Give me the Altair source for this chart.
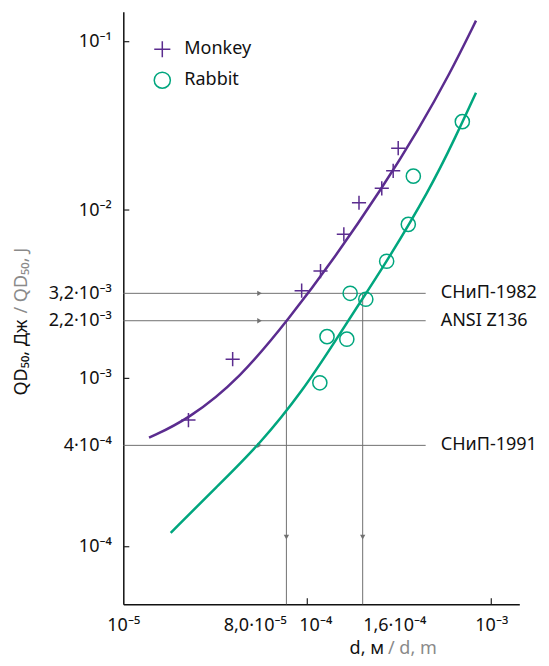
import altair as alt
import pandas as pd

# ---------------- data ----------------
species_names = ["Monkey", "Rabbit"]

monkey_d = [2.26e-5, 3.93e-5, 9.32e-5, 1.18e-4, 1.58e-4, 1.91e-4, 2.54e-4, 2.93e-4, 3.12e-4]
monkey_qd = [5.65e-4, 1.30e-3, 3.32e-3, 4.34e-3, 7.17e-3, 1.105e-2, 1.345e-2, 1.71e-2, 2.33e-2]

rabbit_d = [1.17e-4, 1.28e-4, 1.64e-4, 1.71e-4, 2.08e-4, 2.70e-4, 3.54e-4, 3.77e-4, 6.96e-4]
rabbit_qd = [9.41e-4, 1.77e-3, 1.71e-3, 3.20e-3, 2.95e-3, 4.96e-3, 8.22e-3, 1.59e-2, 3.35e-2]

monkey_curve_d = [1.38e-5, 2.26e-5, 4.31e-5, 8.05e-5, 1.38e-4, 2.54e-4, 4.01e-4, 5.97e-4, 8.26e-4]
monkey_curve_qd = [4.44e-4, 5.71e-4, 1.00e-3, 2.30e-3, 5.04e-3, 1.34e-2, 2.99e-2, 6.49e-2, 1.333e-1]

rabbit_curve_d = [1.81e-5, 3.22e-5, 5.53e-5, 9.51e-5, 1.43e-4, 2.11e-4, 2.70e-4, 4.64e-4, 6.35e-4, 8.26e-4]
rabbit_curve_qd = [1.21e-4, 2.27e-4, 4.07e-4, 8.52e-4, 1.69e-3, 3.27e-3, 4.93e-3, 1.33e-2, 2.67e-2, 4.98e-2]

# limit levels (horizontal lines)
limit_qd = [3.2e-3, 2.2e-3, 4e-4]
limit_names = ["СНиП-1982", "ANSI Z136", "СНиП-1991"]
limit_line_start = 1e-5
limit_line_end = 4.4e-4
limit_arrow_d = 5.5e-5

# resulting diameters (vertical lines)
result_d = [7.7e-5, 2.0e-4]
result_top_qd = [2.2e-3, 3.2e-3]
result_arrow_qd = 1.14e-4

# axes
x_domain = [1e-5, 1.42e-3]
y_domain = [4.55e-5, 0.1507]
x_tick_values = [1e-5, 7.7e-5, 1e-4, 2.0e-4, 1e-3]
x_tick_labels = ["10⁻⁵", "8,0·10⁻⁵", "10⁻⁴", "1,6·10⁻⁴", "10⁻³"]
x_major_ticks = [1e-4, 1e-3]
y_tick_values = [1e-4, 4e-4, 1e-3, 2.2e-3, 3.2e-3, 1e-2, 1e-1]
y_tick_labels = ["10⁻⁴", "4·10⁻⁴", "10⁻³", "2,2·10⁻³", "3,2·10⁻³", "10⁻²", "10⁻¹"]
y_major_ticks = [1e-4, 1e-3, 1e-2, 1e-1]

x_title_main, x_title_alt = "d, м", "/ d, m"
y_title_main, y_title_alt = "QD₅₀, Дж", "/ QD₅₀, J"

# ---------------- styling ----------------
PURPLE = "#5b2c8f"
GREEN = "#00a67e"
GRAY = "#707070"
FONT = "Noto Sans"
FS = 18
W, H = 396, 592.6

# ---------------- tables ----------------
pts = pd.DataFrame({
    "d": monkey_d + rabbit_d,
    "qd": monkey_qd + rabbit_qd,
    "species": [species_names[0]] * len(monkey_d) + [species_names[1]] * len(rabbit_d),
})
curves = pd.DataFrame({
    "d": monkey_curve_d + rabbit_curve_d,
    "qd": monkey_curve_qd + rabbit_curve_qd,
    "species": [species_names[0]] * len(monkey_curve_d) + [species_names[1]] * len(rabbit_curve_d),
})
limits = pd.DataFrame({
    "qd": limit_qd, "name": limit_names,
    "x0": [limit_line_start] * 3, "x1": [limit_line_end] * 3, "xa": [limit_arrow_d] * 3,
})
results = pd.DataFrame({
    "d": result_d, "top": result_top_qd,
    "bottom": [y_domain[0]] * 2, "ya": [result_arrow_qd] * 2,
})
yticks = pd.DataFrame({"qd": y_major_ticks})
xticks = pd.DataFrame({"d": x_major_ticks})
one = pd.DataFrame({"a": [0]})


def label_expr(vals, labels):
    parts = [f"abs(datum.value - {v}) < {v * 0.01} ? '{l}'" for v, l in zip(vals, labels)]
    return " : ".join(parts) + " : ''"


xs = alt.Scale(type="log", domain=x_domain, nice=False)
ys = alt.Scale(type="log", domain=y_domain, nice=False)

x_axis = alt.Axis(
    values=x_tick_values, labelExpr=label_expr(x_tick_values, x_tick_labels),
    title=None, grid=False, ticks=False, tickSize=0, labelPadding=12,
    domainColor="#111", domainWidth=1.5, labelFont=FONT, labelFontSize=FS, labelColor="#111",
    labelAlign={"condition": [
        {"test": "abs(datum.value - 7.7e-5) < 1e-6", "value": "right"},
        {"test": "abs(datum.value - 2.0e-4) < 1e-6", "value": "left"},
    ], "value": "center"},
    labelOffset={"condition": {"test": "abs(datum.value - 1e-4) < 1e-6", "value": 8}, "value": 0},
    labelOverlap=False, labelFlush=False,
)
y_axis = alt.Axis(
    values=y_tick_values, labelExpr=label_expr(y_tick_values, y_tick_labels),
    title=None, grid=False, ticks=False, tickSize=0, labelPadding=12,
    domainColor="#111", domainWidth=1.5, labelFont=FONT, labelFontSize=FS, labelColor="#111",
    labelOverlap=False, labelFlush=False,
)

hlines = alt.Chart(limits).mark_rule(color=GRAY, strokeWidth=1).encode(
    x=alt.X("x0:Q", scale=xs, axis=x_axis), x2="x1:Q",
    y=alt.Y("qd:Q", scale=ys, axis=y_axis),
)
harrows = alt.Chart(limits).mark_point(shape="triangle-right", filled=True, color=GRAY, size=28, opacity=1).encode(
    x=alt.X("xa:Q", scale=xs), y=alt.Y("qd:Q", scale=ys),
)
hlabels = alt.Chart(limits).mark_text(align="left", baseline="middle", dx=15, font=FONT, fontSize=FS, color="#111").encode(
    x=alt.X("x1:Q", scale=xs), y=alt.Y("qd:Q", scale=ys), text="name:N",
)
vlines = alt.Chart(results).mark_rule(color=GRAY, strokeWidth=1).encode(
    x=alt.X("d:Q", scale=xs), y=alt.Y("top:Q", scale=ys), y2="bottom:Q",
)
varrows = alt.Chart(results).mark_point(shape="triangle-down", filled=True, color=GRAY, size=28, opacity=1).encode(
    x=alt.X("d:Q", scale=xs), y=alt.Y("ya:Q", scale=ys),
)
ytick_marks = alt.Chart(yticks).mark_rule(color="#222", strokeWidth=1.2).encode(
    y=alt.Y("qd:Q", scale=ys), x=alt.value(0), x2=alt.value(6),
)
xtick_marks = alt.Chart(xticks).mark_rule(color="#222", strokeWidth=1.2).encode(
    x=alt.X("d:Q", scale=xs), y=alt.value(H), y2=alt.value(H - 6),
)
line_layers = [
    alt.Chart(curves).transform_filter(alt.datum.species == name)
    .mark_line(strokeWidth=2.5, interpolate="basis", color=col)
    .encode(x=alt.X("d:Q", scale=xs), y=alt.Y("qd:Q", scale=ys))
    for name, col in zip(species_names, [PURPLE, GREEN])
]
legend = alt.Legend(
    title=None, orient="none", legendX=30, legendY=28.5, padding=0,
    labelFont=FONT, labelFontSize=FS, labelColor="#111", labelOffset=13,
    symbolSize=260, symbolStrokeWidth=1.5, rowPadding=7,
)
points = alt.Chart(pts).mark_point(filled=False, strokeWidth=1.5, size=200, opacity=1).encode(
    x=alt.X("d:Q", scale=xs), y=alt.Y("qd:Q", scale=ys),
    color=alt.Color("species:N", scale=alt.Scale(domain=species_names, range=[PURPLE, GREEN]), legend=legend),
    shape=alt.Shape("species:N", scale=alt.Scale(domain=species_names, range=["M-1,0L1,0M0,-1L0,1", "circle"]), legend=legend),
)

xt1 = alt.Chart(one).mark_text(align="right", baseline="alphabetic", font=FONT, fontSize=FS, color="#111").encode(
    x=alt.value(260.7), y=alt.value(642.5), text=alt.value(x_title_main))
xt2 = alt.Chart(one).mark_text(align="left", baseline="alphabetic", font=FONT, fontSize=FS, color="#8a8a8a").encode(
    x=alt.value(264.7), y=alt.value(642.5), text=alt.value(x_title_alt))
yt1 = alt.Chart(one).mark_text(align="right", baseline="middle", angle=270, font=FONT, fontSize=FS, color="#111").encode(
    x=alt.value(-101.6), y=alt.value(307.8), text=alt.value(y_title_main))
yt2 = alt.Chart(one).mark_text(align="left", baseline="middle", angle=270, font=FONT, fontSize=FS, color="#8a8a8a").encode(
    x=alt.value(-101.6), y=alt.value(301.8), text=alt.value(y_title_alt))

chart = alt.layer(
    hlines, vlines, harrows, varrows, hlabels, ytick_marks, xtick_marks,
    *line_layers, points, xt1, xt2, yt1, yt2,
).properties(
    width=W, height=H,
    autosize=alt.AutoSizeParams(type="none"),
    padding={"left": 115.3, "top": 3.7, "right": 21.7, "bottom": 53.5},
).configure_view(stroke=None)

chart.save("out.html", embed_options={"renderer": "svg", "actions": False})
